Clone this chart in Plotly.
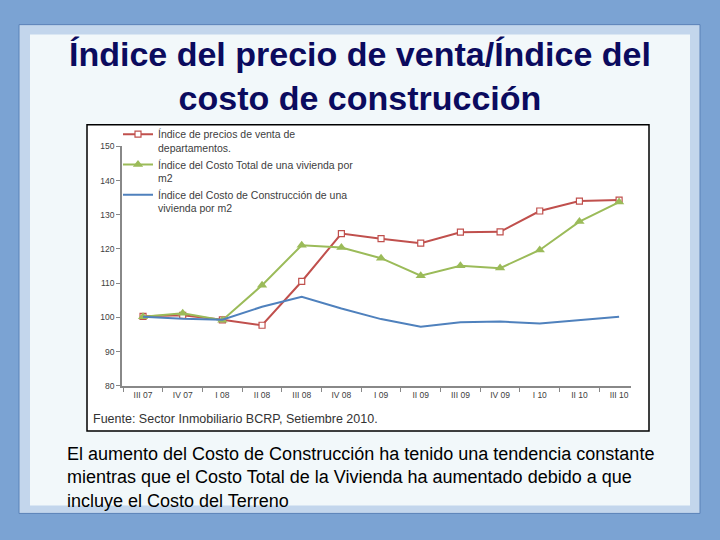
import plotly.graph_objects as go

# ---- data ----
quarters = ["III 07", "IV 07", "I 08", "II 08", "III 08", "IV 08", "I 09",
            "II 09", "III 09", "IV 09", "I 10", "II 10", "III 10"]
precio_venta = [100.3, 100.6, 99.3, 97.7, 110.5, 124.5, 123.0,
                121.7, 124.9, 125.0, 131.1, 134.0, 134.3]
costo_total = [100.2, 101.2, 99.2, 109.4, 121.1, 120.4, 117.3,
               112.2, 115.1, 114.4, 119.7, 128.0, 133.7]
costo_construccion = [100.2, 99.6, 99.3, 103.1, 106.0, 102.6, 99.5,
                      97.3, 98.6, 98.8, 98.2, 99.3, 100.2]
series_names = [
    "Índice de precios de venta de<br>departamentos.",
    "Índice del Costo Total de una vivienda por<br>m2",
    "Índice del Costo de Construcción de una<br>vivienda por m2",
]

W, H = 720, 540


def px(x):
    return x / W


def py(y):
    return 1 - y / H


RED = "#C0504D"
GREEN = "#9BBB59"
BLUE = "#4F81BD"
FONT = "Liberation Sans, Arial, sans-serif"

fig = go.Figure()
fig.add_trace(go.Scatter(
    x=quarters, y=precio_venta, name=series_names[0], mode="lines+markers",
    line=dict(color=RED, width=2),
    marker=dict(symbol="square", size=6, color="white", line=dict(color=RED, width=1.2)),
))
fig.add_trace(go.Scatter(
    x=quarters, y=costo_total, name=series_names[1], mode="lines+markers",
    line=dict(color=GREEN, width=2),
    marker=dict(symbol="triangle-up", size=9, color=GREEN),
))
fig.add_trace(go.Scatter(
    x=quarters, y=costo_construccion, name=series_names[2], mode="lines",
    line=dict(color=BLUE, width=2),
))

shapes = [
    # light blue frame
    dict(type="rect", xref="paper", yref="paper", layer="below",
         x0=px(19), x1=px(700), y0=py(518), y1=py(20),
         fillcolor="#C3D6EC", line=dict(color="#5B82B8", width=1)),
    # inner pale panel
    dict(type="rect", xref="paper", yref="paper", layer="below",
         x0=px(30), x1=px(690), y0=py(510), y1=py(30),
         fillcolor="#F2F8FA", line=dict(width=0)),
    # chart picture box
    dict(type="rect", xref="paper", yref="paper", layer="below",
         x0=px(87), x1=px(649), y0=py(434), y1=py(122),
         fillcolor="white", line=dict(color="black", width=1.5)),
]

annotations = [
    dict(text="<b>Índice del precio de venta/Índice del<br>costo de construcción</b>",
         xref="paper", yref="paper", x=0.5, y=py(29), xanchor="center", yanchor="top",
         showarrow=False, align="center",
         font=dict(family=FONT, size=34, color="#0B0B5E")),
    dict(text="El aumento del Costo de Construcción ha tenido una tendencia constante<br>"
              "mientras que el Costo Total de la Vivienda ha aumentado debido a que<br>"
              "incluye el Costo del Terreno",
         xref="paper", yref="paper", x=px(65), y=py(445), xanchor="left", yanchor="top",
         showarrow=False, align="left",
         font=dict(family=FONT, size=18, color="black")),
    dict(text="Fuente: Sector Inmobiliario BCRP, Setiembre 2010.",
         xref="paper", yref="paper", x=px(91), y=py(422), xanchor="left", yanchor="middle",
         showarrow=False, align="left",
         font=dict(family=FONT, size=12.5, color="#333333")),
]

fig.update_layout(
    width=W, height=H,
    margin=dict(l=0, r=0, t=0, b=0),
    paper_bgcolor="#7BA3D3",
    plot_bgcolor="rgba(0,0,0,0)",
    shapes=shapes,
    annotations=annotations,
    showlegend=True,
    legend=dict(
        x=px(118), y=py(118), xanchor="left", yanchor="top",
        bgcolor="rgba(0,0,0,0)", borderwidth=0,
        font=dict(family=FONT, size=10.5, color="#404040"),
        itemwidth=30, valign="top", tracegroupgap=0,
    ),
    xaxis=dict(
        domain=[px(122), px(631)],
        type="category", range=[-0.53, 12.3],
        showgrid=False, zeroline=False,
        showline=True, linecolor="#888888", linewidth=1.5,
        ticks="outside", ticklen=4, tickcolor="#888888", tickson="boundaries",
        tickfont=dict(family=FONT, size=8.5, color="#404040"),
    ),
    yaxis=dict(
        domain=[py(388), py(144)],
        range=[80, 150], dtick=10,
        showgrid=False, zeroline=False,
        showline=True, linecolor="#888888", linewidth=1.5,
        ticks="outside", ticklen=4, tickcolor="#888888",
        tickfont=dict(family=FONT, size=8.5, color="#404040"),
    ),
)

fig.write_html("out.html", config={"displayModeBar": False},
               post_script="document.body.style.margin='0px';")
